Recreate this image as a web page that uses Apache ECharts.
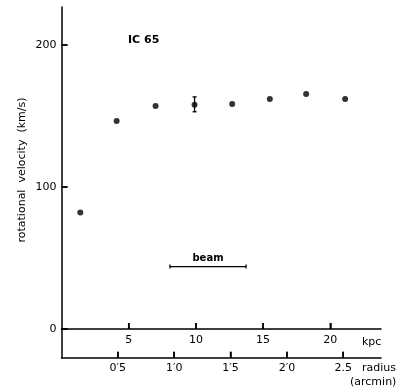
<!DOCTYPE html>
<html>
<head>
<meta charset="utf-8">
<script src="https://cdn.jsdelivr.net/npm/echarts@6/dist/echarts.min.js"></script>
<style>html,body{margin:0;padding:0;background:#fff}#c{width:405px;height:391px}</style>
</head>
<body>
<div id="c"></div>
<script>
// Data
var radiusKpc = [1.4, 4.1, 7.0, 9.9, 12.7, 15.5, 18.2, 21.1];
var velocity = [82, 146.5, 157, 158, 158.5, 162, 165.5, 162];
var errX = [9.9];
var errLow = [153];
var errHigh = [163.5];
var beamStart = [8.07];
var beamEnd = [13.73];
var beamLevel = [44];
var velTicks = [0, 100, 200];
var kpcTicks = [5, 10, 15, 20];
var arcminTicks = [0.5, 1.0, 1.5, 2.0, 2.5];
var arcminLabels = ["0\u20325", "1\u20320", "1\u20325", "2\u20320", "2.5"];

var FONT = 'DejaVu Sans';
var chart = echarts.init(document.getElementById('c'));

var scatterData = radiusKpc.map(function (x, i) { return [x, velocity[i]]; });
var errData = errX.map(function (x, i) { return [x, errLow[i], errHigh[i]]; });
var beamData = beamStart.map(function (s, i) { return [s, beamEnd[i], beamLevel[i]]; });

function ls() { return {color: '#000', width: 1.5}; }
function tk(vals) { return {show: true, inside: true, length: 6, customValues: vals, lineStyle: {color: '#000', width: 1.5}}; }

// tick marks drawn through the axes' own scales
function tickSeries(xi, yi, data, dx, dy) {
  return {
    type: 'custom', xAxisIndex: xi, yAxisIndex: yi, data: data, z: 10, clip: false,
    renderItem: function (params, api) {
      var p = api.coord([api.value(0), api.value(1)]);
      return {type: 'group', children: [{type: 'line',
        shape: {x1: p[0], y1: p[1], x2: p[0] + dx, y2: p[1] + dy},
        style: {stroke: '#000', lineWidth: 1.5}}]};
    }
  };
}

chart.setOption({
  animation: false,
  grid: [
    {left: 61.5, right: 24, top: 7, bottom: 62, containLabel: false},
    {left: 61.5, right: 24, top: 329, bottom: 33.3, containLabel: false}
  ],
  xAxis: [{
    gridIndex: 0, type: 'value', min: 0, max: 23.77,
    axisLine: {onZero: false, lineStyle: ls()},
    axisTick: tk(kpcTicks),
    axisLabel: {customValues: kpcTicks, margin: 6, color: '#000', fontFamily: FONT, fontSize: 11},
    splitLine: {show: false}
  }, {
    gridIndex: 1, type: 'value', min: 0, max: 2.835,
    axisLine: {onZero: false, lineStyle: ls()},
    axisTick: tk(arcminTicks),
    axisLabel: {customValues: arcminTicks, margin: 5, color: '#000', fontFamily: FONT, fontSize: 11,
      formatter: function (v) {
        for (var i = 0; i < arcminTicks.length; i++) {
          if (Math.abs(arcminTicks[i] - v) < 1e-6) return arcminLabels[i];
        }
        return '';
      }},
    splitLine: {show: false}
  }],
  yAxis: [{
    gridIndex: 0, type: 'value', min: 0, max: 226.8,
    axisLine: {show: true, lineStyle: ls()},
    axisTick: tk(velTicks),
    axisLabel: {customValues: velTicks, margin: 5, color: '#000', fontFamily: FONT, fontSize: 11},
    splitLine: {show: false}
  }, {
    gridIndex: 1, type: 'value', min: 0, max: 1,
    axisLine: {show: true, lineStyle: ls()},
    axisTick: {show: false}, axisLabel: {show: false}, splitLine: {show: false}
  }],
  graphic: [
    {type: 'text', left: 128, top: 35, style: {text: 'IC 65', fill: '#000', font: 'bold 11px ' + FONT}},
    {type: 'text', left: 362, top: 337, style: {text: 'kpc', fill: '#000', font: '11px ' + FONT}},
    {type: 'text', left: 362, top: 363, style: {text: 'radius', fill: '#000', font: '11px ' + FONT}},
    {type: 'text', left: 350, top: 377, style: {text: '(arcmin)', fill: '#000', font: '11px ' + FONT}},
    {type: 'text', x: 22, y: 170, rotation: Math.PI / 2,
      style: {text: 'rotational  velocity  (km/s)', fill: '#000', font: '11px ' + FONT,
        align: 'center', verticalAlign: 'middle'}}
  ],
  series: [
    tickSeries(0, 0, kpcTicks.map(function (v) { return [v, 0]; }), 0, -6),
    tickSeries(0, 0, velTicks.map(function (v) { return [0, v]; }), 6, 0),
    tickSeries(1, 1, arcminTicks.map(function (v) { return [v, 0]; }), 0, -6),
  {
    type: 'scatter', xAxisIndex: 0, yAxisIndex: 0,
    data: scatterData, symbol: 'circle', symbolSize: 6,
    itemStyle: {color: '#000'}
  }, {
    type: 'custom', xAxisIndex: 0, yAxisIndex: 0,
    data: errData,
    renderItem: function (params, api) {
      var lo = api.coord([api.value(0), api.value(1)]);
      var hi = api.coord([api.value(0), api.value(2)]);
      var w = 2;
      var st = {stroke: '#000', lineWidth: 1.3};
      return {type: 'group', children: [
        {type: 'line', shape: {x1: lo[0], y1: lo[1], x2: hi[0], y2: hi[1]}, style: st},
        {type: 'line', shape: {x1: lo[0] - w, y1: lo[1], x2: lo[0] + w, y2: lo[1]}, style: st},
        {type: 'line', shape: {x1: hi[0] - w, y1: hi[1], x2: hi[0] + w, y2: hi[1]}, style: st}
      ]};
    }
  }, {
    type: 'custom', xAxisIndex: 0, yAxisIndex: 0,
    data: beamData,
    renderItem: function (params, api) {
      var a = api.coord([api.value(0), api.value(2)]);
      var b = api.coord([api.value(1), api.value(2)]);
      var h = 2;
      var st = {stroke: '#000', lineWidth: 1.3};
      return {type: 'group', children: [
        {type: 'line', shape: {x1: a[0], y1: a[1], x2: b[0], y2: b[1]}, style: st},
        {type: 'line', shape: {x1: a[0], y1: a[1] - h, x2: a[0], y2: a[1] + h}, style: st},
        {type: 'line', shape: {x1: b[0], y1: b[1] - h, x2: b[0], y2: b[1] + h}, style: st},
        {type: 'text', x: (a[0] + b[0]) / 2, y: a[1] - 3,
          style: {text: 'beam', fill: '#000', font: 'bold 10px ' + FONT, align: 'center', verticalAlign: 'bottom'}}
      ]};
    }
  }]
});
</script>
</body>
</html>
